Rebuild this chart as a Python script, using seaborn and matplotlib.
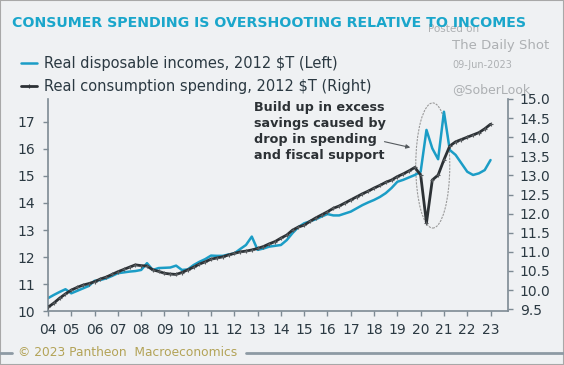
#!/usr/bin/env python3

import pandas as pd
import seaborn as sns
from matplotlib import pyplot as plt
from matplotlib.lines import Line2D
from matplotlib.patches import Ellipse, Rectangle

# quarterly observations, 2004Q1 .. 2023Q1
quarters = pd.date_range("2004-01-01", "2023-01-01", freq="QS")

# real disposable incomes, 2012 $T (left axis)
income = [
    10.49, 10.61, 10.72, 10.82,
    10.67, 10.76, 10.85, 10.94,
    11.13, 11.16, 11.22, 11.31,
    11.41, 11.44, 11.47, 11.49,
    11.53, 11.78, 11.53, 11.60,
    11.61, 11.62, 11.69, 11.53,
    11.55, 11.71, 11.83, 11.93,
    12.06, 12.05, 12.05, 12.10,
    12.14, 12.30, 12.45, 12.76,
    12.27, 12.32, 12.39, 12.42,
    12.45, 12.63, 12.89, 13.11,
    13.25, 13.32, 13.40, 13.50,
    13.59, 13.54, 13.54, 13.61,
    13.68, 13.80, 13.92, 14.02,
    14.11, 14.22, 14.36, 14.55,
    14.78, 14.85, 14.94, 15.03,
    15.15, 16.69, 16.01, 15.61,
    17.36, 15.95, 15.77, 15.46,
    15.15, 15.03, 15.09, 15.21,
    15.58,
]

# real consumption spending, 2012 $T (right axis)
spending = [
    9.55, 9.66, 9.79, 9.90,
    10.00, 10.07, 10.13, 10.17,
    10.22, 10.29, 10.34, 10.41,
    10.48, 10.54, 10.60, 10.66,
    10.64, 10.63, 10.53, 10.49,
    10.44, 10.42, 10.41, 10.46,
    10.53, 10.60, 10.68, 10.74,
    10.81, 10.84, 10.87, 10.92,
    10.96, 11.00, 11.02, 11.05,
    11.09, 11.14, 11.21, 11.27,
    11.36, 11.44, 11.57, 11.65,
    11.70, 11.80, 11.89, 11.97,
    12.05, 12.14, 12.20, 12.28,
    12.36, 12.44, 12.52, 12.59,
    12.67, 12.74, 12.82, 12.88,
    12.97, 13.04, 13.12, 13.21,
    13.01, 11.76, 12.88, 13.01,
    13.41, 13.77, 13.88, 13.94,
    14.00, 14.06, 14.12, 14.22,
    14.34,
]

year_ticks = list(range(2004, 2024))
year_labels = [f"{y % 100:02d}" for y in year_ticks]
left_ticks = [10, 11, 12, 13, 14, 15, 16, 17]
right_ticks = [9.5, 10.0, 10.5, 11.0, 11.5, 12.0, 12.5, 13.0, 13.5, 14.0, 14.5, 15.0]

BLUE = '#1b9dc6'
DARK = '#2c3135'
TEXT = '#2b3942'
SPINE = '#7d8a93'

sns.set_style("ticks")
plt.rcParams['font.family'] = ['DejaVu Sans']

df = pd.DataFrame({
    'year': quarters.year + (quarters.month - 1) / 12,
    'income': income,
    'spending': spending,
})

fig = plt.figure(figsize=(5.64, 3.65), dpi=100)
fig.patch.set_facecolor('#eff1f3')
fig.patches.append(Rectangle((0, 0), 1, 1, transform=fig.transFigure,
                             fill=False, edgecolor='#a8a8a8', lw=1.5))

ax = fig.add_axes([0.0851, 0.1466, 0.8156, 0.5822])
ax.patch.set_alpha(0)
ax2 = ax.twinx()

sns.lineplot(data=df, x='year', y='income', color=BLUE, lw=1.8, ax=ax)
sns.lineplot(data=df, x='year', y='spending', color=DARK, lw=2.0,
             marker='+', markersize=3.5, mew=0.8, mec='#55595c', ax=ax2)

ax.set_xlim(2004, 2023.75)
ax.set_ylim(10, 17.83)
ax2.set_ylim(9.44, 15.0)

ax.set_xticks(year_ticks)
ax.set_xticklabels(year_labels)
ax.set_yticks(left_ticks)
ax2.set_yticks(right_ticks)
ax2.set_yticklabels([f"{v:.1f}" for v in right_ticks])

for a in (ax, ax2):
    a.set_xlabel(None)
    a.set_ylabel(None)
    a.spines['top'].set_visible(False)
    for s in ('left', 'right', 'bottom'):
        a.spines[s].set_color(SPINE)
        a.spines[s].set_linewidth(1.2)
    a.tick_params(colors=SPINE, labelcolor=TEXT, labelsize=10,
                  length=3.5, width=1)
ax.spines['right'].set_visible(False)
ax2.spines['left'].set_visible(False)
ax2.spines['bottom'].set_visible(False)
ax.tick_params(axis='x', pad=5)
ax.tick_params(axis='y', pad=6)
ax2.tick_params(axis='y', pad=5)

# ellipse round the pandemic swings
ax.add_patch(Ellipse((2020.52, 15.38), 1.46, 4.61, fill=False,
                     edgecolor='#9a9a9a', lw=0.8, ls=(0, (2, 1))))

ax.text(2012.84, 17.75,
        'Build up in excess\nsavings caused by\ndrop in spending\nand fiscal support',
        ha='left', va='top', fontsize=9.2, fontweight='semibold',
        color=DARK, linespacing=1.3)
ax.annotate('', xy=(2019.67, 16.02), xytext=(2018.33, 16.28),
            arrowprops=dict(arrowstyle='-|>', color='#555a5e', lw=0.8,
                            mutation_scale=6))

# watermark
wm = '#adb0b3'
fig.text(428 / 564, 1 - 29 / 365, 'Posted on', fontsize=7.5, color=wm,
         va='center', zorder=0)
fig.text(452 / 564, 1 - 46 / 365, 'The Daily Shot', fontsize=9.5, color=wm,
         va='center')
fig.text(452 / 564, 1 - 65 / 365, '09-Jun-2023', fontsize=7, color=wm,
         va='center')
fig.text(452 / 564, 1 - 90 / 365, '@SoberLook', fontsize=9, color=wm,
         va='center')

fig.text(12 / 564, 1 - 23 / 365,
         'CONSUMER SPENDING IS OVERSHOOTING RELATIVE TO INCOMES',
         fontsize=10.2, fontweight='bold', color='#1aa6cb', va='center',
         zorder=5)

handles = [
    Line2D([], [], color=BLUE, lw=1.8),
    Line2D([], [], color=DARK, lw=2.0, marker='+', markersize=3.5, mew=0.8),
]
labels = ['Real disposable incomes, 2012 $T (Left)',
          'Real consumption spending, 2012 $T (Right)']
leg = fig.legend(handles, labels, loc='upper left',
                 bbox_to_anchor=(21 / 564, 1 - 56 / 365), frameon=False,
                 fontsize=10.5, handlelength=1.1, handletextpad=0.5,
                 labelspacing=0.55, borderpad=0, borderaxespad=0)
for t in leg.get_texts():
    t.set_color(TEXT)

# footer
fig.add_artist(Line2D([0, 12 / 564], [1 - 353 / 365] * 2,
                      transform=fig.transFigure, color='#8d9aa4', lw=2))
fig.add_artist(Line2D([246 / 564, 1], [1 - 353 / 365] * 2,
                      transform=fig.transFigure, color='#8d9aa4', lw=2))
fig.text(18 / 564, 1 - 353 / 365, '\u00a9 2023 Pantheon  Macroeconomics',
         fontsize=8.8, color='#b3a357', va='center')

fig.savefig('out.png', dpi=100, facecolor=fig.get_facecolor())
